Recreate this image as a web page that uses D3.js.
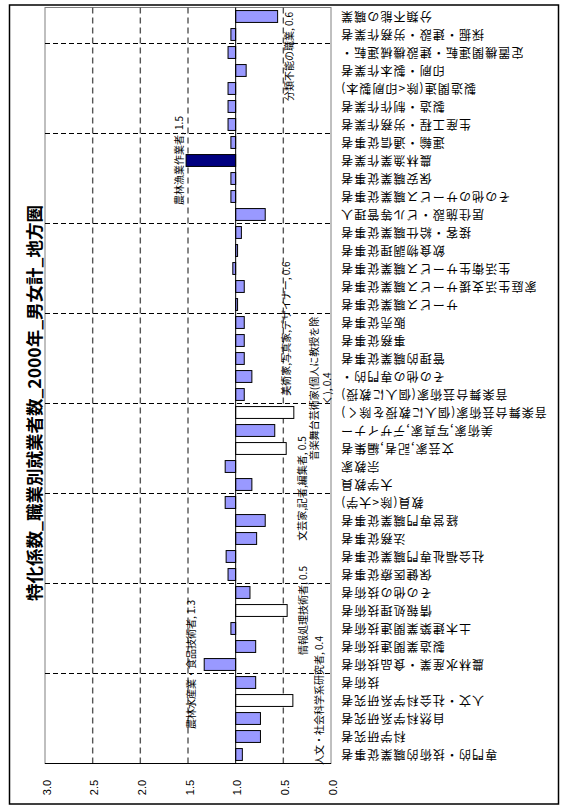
<!DOCTYPE html>
<html><head><meta charset="utf-8">
<script src="https://cdn.jsdelivr.net/npm/d3@7"></script>
<style>html,body{margin:0;padding:0;background:#fff}svg{display:block}</style>
</head><body>
<script>
// ---- data (index 0 = first category, drawn at the bottom) ----
const categories = [
  "専門的・技術的職業従事者","科学研究者","自然科学系研究者","人文・社会科学系研究者","技術者",
  "農林水産業・食品技術者","製造業関連技術者","土木建築業関連技術者","情報処理技術者","その他の技術者",
  "保健医療従事者","社会福祉専門職業従事者","法務従事者","経営専門職業従事者","教員(除<大学)",
  "大学教員","宗教家","文芸家,記者,編集者","美術家,写真家,デザイナー","音楽舞台芸術家(個人に教授を除く)",
  "音楽舞台芸術家(個人に教授)","その他の専門的・","管理的職業従事者","事務従事者","販売従事者",
  "サービス職業従事者","家庭生活支援サービス職業従事者","生活衛生サービス職業従事者","飲食物調理従事者","接客・給仕職業従事者",
  "居住施設・ビル等管理人","その他のサービス職業従事者","保安職業従事者","農林漁業作業者","運輸・通信従事者",
  "生産工程・労務作業者","製造・制作作業者","製造関連(除<印刷製本)","印刷・製本作業者","定置機関運転・建設機械運転・",
  "採掘・建設・労務作業者","分類不能の職業"
];
const values = [
  0.93,0.74,0.74,0.40,0.79,
  1.33,0.79,1.05,0.46,0.85,
  1.08,1.10,0.78,0.69,1.11,
  0.83,1.11,0.47,0.59,0.39,
  0.91,0.83,0.91,0.91,0.91,
  0.98,0.91,1.03,0.98,0.94,
  0.69,1.05,1.05,1.52,1.05,
  1.08,1.08,1.08,0.89,1.08,
  1.05,0.56
];
const tickValues = [3.0,2.5,2.0,1.5,1.0,0.5,0.0];
const title = "特化係数_職業別就業者数_2000年_男女計_地方圏";
const baseline = 1.0;
const lowLabel = 0.65, highLabel = 1.25;   // labelled bars
const whiteBelow = 0.5, navyAbove = 1.5;   // colour classes
const groupEvery = 5;

// ---- layout / style ----
const W = 564, H = 806;
const plot = {left: 45, right: 331, top: 7.5, bottom: 763.5};
const JP = "'Noto Sans CJK JP','Noto Sans',sans-serif";
// manual nudges of data labels (px), as in the reference
const labelNudge = {
  "人文・社会科学系研究者": [11, 0],
  "文芸家,記者,編集者": [0, 40],
  "美術家,写真家,デザイナー": [-4, -102],
  "音楽舞台芸術家(個人に教授を除く)": [5, -24],
  "農林漁業作業者": [6, 0],
  "分類不能の職業": [-4, 40]
};

const svg = d3.select("body").append("svg").attr("width", W).attr("height", H);
svg.append("rect").attr("width", W).attr("height", H).attr("fill", "#fff");
svg.append("rect").attr("x", 9.5).attr("y", 5).attr("width", 549).attr("height", 799)
  .attr("fill", "none").attr("stroke", "#000").attr("stroke-width", 1.5);

const n = categories.length;
const x = d3.scaleLinear().domain([3, 0]).range([plot.left, plot.right]);
const y = d3.scaleBand().domain(d3.range(n).reverse()).range([plot.top, plot.bottom])
  .paddingInner(0.34).paddingOuter(0.17);
const bw = y.bandwidth();
const cy = i => y(i) + bw / 2;

// plot area border
svg.append("rect").attr("x", x(3)).attr("y", plot.top).attr("width", x(0) - x(3))
  .attr("height", plot.bottom - plot.top).attr("fill", "none").attr("stroke", "#808080").attr("stroke-width", 1);

// value gridlines (vertical dashed)
svg.append("g").selectAll("line").data(tickValues.filter(t => t > 0 && t < 3 && t !== baseline)).join("line")
  .attr("x1", d => x(d)).attr("x2", d => x(d)).attr("y1", plot.top).attr("y2", plot.bottom)
  .attr("stroke", "#555").attr("stroke-width", 1.4).attr("stroke-dasharray", "6,4");

// category group gridlines (horizontal dashed)
const bounds = d3.range(groupEvery, n, groupEvery);
svg.append("g").selectAll("line").data(bounds).join("line")
  .attr("x1", x(3)).attr("x2", x(0))
  .attr("y1", i => (cy(i) + cy(i - 1)) / 2).attr("y2", i => (cy(i) + cy(i - 1)) / 2)
  .attr("stroke", "#000").attr("stroke-width", 1).attr("stroke-dasharray", "5,3");

// bars
const fillOf = v => v >= navyAbove ? "#000080" : (v < whiteBelow ? "#ffffff" : "#9999ff");
svg.append("g").selectAll("rect").data(values).join("rect")
  .attr("x", v => Math.min(x(v), x(baseline)))
  .attr("width", v => Math.abs(x(v) - x(baseline)))
  .attr("y", (v, i) => y(i)).attr("height", bw)
  .attr("fill", fillOf).attr("stroke", "#000").attr("stroke-width", 1);

// category axis (at baseline) and value axis line
svg.append("line").attr("x1", x(baseline)).attr("x2", x(baseline)).attr("y1", plot.top).attr("y2", plot.bottom)
  .attr("stroke", "#000").attr("stroke-width", 1);
svg.append("line").attr("x1", x(3)).attr("x2", x(0)).attr("y1", plot.bottom).attr("y2", plot.bottom)
  .attr("stroke", "#000").attr("stroke-width", 1.2);

// tick labels (rotated)
svg.append("g").selectAll("text").data(tickValues).join("text")
  .attr("transform", d => `translate(${x(d) + 1.5},${plot.bottom + 24}) rotate(-90)`)
  .attr("text-anchor", "middle").attr("dominant-baseline", "central")
  .attr("font-family", "'Liberation Sans',Arial,sans-serif").attr("font-size", 11)
  .text(d => d3.format(".1f")(d));

// category labels (upside down)
svg.append("g").selectAll("text").data(categories).join("text")
  .attr("transform", (d, i) => `translate(${x(0) + 9},${cy(i) + 1}) rotate(180)`)
  .attr("text-anchor", "end").attr("dominant-baseline", "central")
  .attr("font-family", JP).attr("font-size", 12).attr("letter-spacing", 1.1)
  .text(d => d);

// data labels
const lblG = svg.append("g");
const lineH = 13, maxW = 150, pad = 8;
function wrap(str) {
  const t = lblG.append("text").attr("font-family", JP).attr("font-size", 10);
  const lines = []; let cur = "";
  for (const ch of str) {
    t.text(cur + ch);
    if (t.node().getComputedTextLength() > maxW && cur) { lines.push(cur); cur = ch; }
    else cur += ch;
  }
  lines.push(cur); t.remove();
  return lines;
}
values.forEach((v, i) => {
  if (!(v < lowLabel || v > highLabel)) return;
  const name = categories[i];
  const lines = wrap(`${name}, ${d3.format(".1f")(v)}`);
  const dir = v < baseline ? 1 : -1;
  const nud = labelNudge[name] || [0, 0];
  const lx = x(v) + dir * (pad + lines.length * lineH / 2) + nud[0];
  const ly = cy(i) + nud[1];
  const t = lblG.append("text")
    .attr("transform", `translate(${lx},${ly}) rotate(-90)`)
    .attr("text-anchor", "middle").attr("dominant-baseline", "central")
    .attr("font-family", JP).attr("font-size", 10);
  lines.forEach((ln, k) => t.append("tspan").attr("x", 0)
    .attr("y", (k - (lines.length - 1) / 2) * lineH).text(ln));
});

// title
svg.append("text").attr("transform", `translate(33,${H / 2}) rotate(-90)`)
  .attr("text-anchor", "middle").attr("dominant-baseline", "central")
  .attr("font-family", JP).attr("font-weight", "bold").attr("font-size", 17.5)
  .text(title);
</script>
</body></html>
